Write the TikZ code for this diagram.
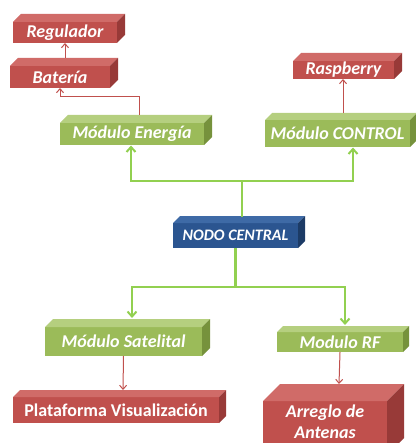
\documentclass[tikz,border=0pt]{standalone}
\usepackage{fontspec}
\setmainfont{Carlito}
\usetikzlibrary{arrows.meta,calc}
\definecolor{rfront}{HTML}{C0504D}
\definecolor{rtop}{HTML}{D06B68}
\definecolor{rside}{HTML}{983A38}
\definecolor{gfront}{HTML}{9BBB59}
\definecolor{gtop}{HTML}{B5CF7F}
\definecolor{gside}{HTML}{76923C}
\definecolor{bfront}{HTML}{2B5590}
\definecolor{btop}{HTML}{3E6AA6}
\definecolor{bside}{HTML}{1C3B66}
\definecolor{gline}{HTML}{92D050}
\definecolor{rline}{HTML}{C0504D}
\tikzset{
  box/.style={inner sep=0pt, outer sep=0pt, text=white, align=center,
    font=\bfseries\itshape\fontsize{18}{20}\selectfont},
  redbox/.style={box, fill=rfront},
  greenbox/.style={box, fill=gfront},
  bluebox/.style={box, fill=bfront},
  gconn/.style={draw=gline, line width=2.2pt, -{Straight Barb[length=5pt,width=9pt,line width=2pt]}},
  rconn/.style={draw=rline, line width=1pt, -{Straight Barb[length=4pt,width=7pt,line width=1pt]}},
}
% \cube{name}{x1}{y1}{x2}{y2}{depth}{style}{topcolor}{sidecolor}
\newcommand{\cube}[9]{%
  \node[#7, minimum width={(#4-#2)*1pt}, minimum height={(#5-#3)*1pt}] (#1) at ({(#2+#4)/2},{(#3+#5)/2}) {};
  \fill[#8] (#1.north west) -- ++(#6pt,#6pt) -- ($(#1.north east)+(#6pt,#6pt)$) -- (#1.north east) -- cycle;
  \fill[#9] (#1.north east) -- ++(#6pt,#6pt) -- ($(#1.south east)+(#6pt,#6pt)$) -- (#1.south east) -- cycle;
}
\begin{document}
\begin{tikzpicture}[x=1pt,y=-1pt]
\useasboundingbox (0,0) rectangle (415,443);
% red boxes
\cube{reg}{13}{22}{117}{43}{8}{redbox}{rtop}{rside}
\node[box] (regt) at (reg) {Regulador};
\cube{bat}{10}{66}{110}{88}{8}{redbox}{rtop}{rside}
\node[box] (batt) at (bat) {Batería};
\cube{rasp}{293}{61}{394}{79}{8}{redbox}{rtop}{rside}
\node[box] (raspt) at (rasp) {Raspberry};
% green
\cube{ener}{60}{123}{204}{145}{8}{greenbox}{gtop}{gside}
\node[box] (enert) at (ener) {Módulo Energía};
\cube{ctrl}{265}{120}{410}{147}{7}{greenbox}{gtop}{gside}
\node[box] (ctrlt) at (ctrl) {Módulo CONTROL};
% central
\cube{nodo}{173}{223}{298}{248}{7}{bluebox}{btop}{bside}
\node[box, font=\bfseries\itshape\fontsize{16}{18}\selectfont] (nodot) at (nodo) {NODO CENTRAL};
% bottom green
\cube{sat}{45}{327}{202}{356}{8}{greenbox}{gtop}{gside}
\node[box] (satt) at (sat) {Módulo Satelital};
\cube{rf}{277}{332}{403}{352}{6}{greenbox}{gtop}{gside}
\node[box] (rft) at (rf) {Modulo RF};
% bottom red
\cube{plat}{13}{397}{219}{423}{7}{redbox}{rtop}{rside}
\node[box, font=\bfseries\fontsize{18}{20}\selectfont] (platt) at (plat) {Plataforma Visualización};
\cube{arr}{263}{401}{387}{455}{17}{redbox}{rtop}{rside}
\node[box, font=\bfseries\itshape\fontsize{18}{21}\selectfont] (arrt) at (325,422) {Arreglo de\\Antenas};
% bend and start coordinates
\coordinate (nodotop) at (242,217);
\coordinate (batbend) at (139,97);
\coordinate (enertop) at (139,115);
\coordinate (battop) at (65,58);
\coordinate (regbot) at (65,43);
\coordinate (ctrltop) at (343,113);
\coordinate (raspbot) at (343,79);
\coordinate (sattop) at (132,318);
\coordinate (rftop) at (345,325);
\coordinate (platttop) at (123,390);
\coordinate (arrtop) at (339,384);
\coordinate (enerbot) at (131,145.5);
\coordinate (ctrlbot) at (353,147.5);
% green connectors from central node
\draw[gconn] (nodotop) |- (enerbot |- 0,181) -- (enerbot);
\draw[gconn] (nodotop) |- (ctrlbot |- 0,181) -- (ctrlbot);
\draw[gconn] (nodo.south) |- (sattop |- 0,287) -- (sattop);
\draw[gconn] (nodo.south) |- (rftop |- 0,287) -- (rftop);
% red connectors
\draw[rconn] (enertop) -- (batbend) -| (bat.south);
\draw[rconn] (battop) -- (regbot);
\draw[rconn] (ctrltop) -- (raspbot);
\draw[rconn] (sat.south) -- (platttop);
\draw[rconn] (rf.south) -- (arrtop);
\end{tikzpicture}
\end{document}
